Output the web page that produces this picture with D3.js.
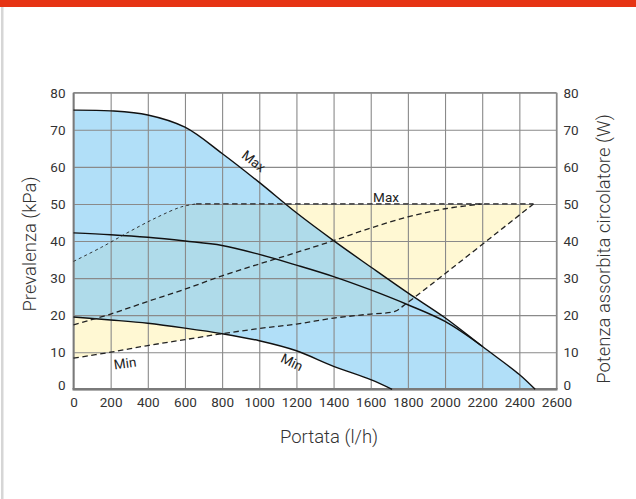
<!DOCTYPE html>
<html><head><meta charset="utf-8">
<script src="https://cdn.jsdelivr.net/npm/d3@7"></script>
<style>
body{margin:0;background:#fff}
svg{display:block;font-family:Roboto,"DejaVu Sans",sans-serif}
</style>
</head><body>
<svg id="c" width="636" height="499"></svg>
<script>
// ---- data (flow l/h, value) ----
const xTicks = [0,200,400,600,800,1000,1200,1400,1600,1800,2000,2200,2400,2600];
const yTicks = [0,10,20,30,40,50,60,70,80];
// pump head curves (kPa, left axis)
const headMax = [[0,75.3],[200,75.1],[400,74],[600,70.7],[800,63.6],[1000,55.8],[1200,47.6],[1400,40.1],[1600,33],[1800,26],[2000,19.3],[2200,11.6],[2400,4],[2485,0]];
const headMid = [[0,42.2],[200,41.7],[400,41],[600,40],[800,38.8],[1000,36.4],[1200,33.5],[1400,30.4],[1600,26.8],[1800,22.8],[2000,18.3],[2200,11.6]];
const headMin = [[0,19.5],[200,18.7],[400,17.8],[600,16.5],[800,15],[1000,13.1],[1200,10.4],[1400,6.2],[1600,2.6],[1715,0]];
// absorbed power curves (W, right axis)
const powerMaxRise = [[0,34.5],[150,38.3],[300,42.5],[450,46.4],[580,49.2],[660,50]];
const powerMaxFlat = [[660,50],[2476,50]];
const powerMid = [[0,17.4],[200,20.3],[400,23.7],[600,27],[800,30.6],[1000,33.8],[1200,36.9],[1400,40.1],[1600,43.5],[1800,46.5],[2000,48.7],[2200,50]];
const powerMin = [[0,8.4],[200,10],[400,11.8],[600,13.4],[800,15],[1000,16.4],[1200,17.6],[1400,19.2],[1600,20.3],[1730,21],[1775,22.5],[2476,50]];

const W = 636, H = 499;
const L = 73.5, R = 556.5, T = 92.7, B = 389.3;
const svg = d3.select("#c");
const x = d3.scaleLinear().domain([0,2600]).range([L,R]);
const y = d3.scaleLinear().domain([0,80]).range([B,T]);
const yW = d3.scaleLinear().domain([0,80]).range([B,T]);

// page decoration
svg.append("rect").attr("x",0).attr("y",0).attr("width",W).attr("height",7).attr("fill","#e63414");
svg.append("rect").attr("x",1).attr("y",7).attr("width",2.5).attr("height",H-7).attr("fill","#d6d6d6");

const cr = d3.curveCatmullRom.alpha(0.5);
const lineH = d3.line().x(d=>x(d[0])).y(d=>y(d[1])).curve(cr);
const lineW = d3.line().x(d=>x(d[0])).y(d=>yW(d[1])).curve(cr);
const lineLin = d3.line().x(d=>x(d[0])).y(d=>yW(d[1]));

// regions
const pumpPath = lineH(headMax) + "L" + lineH(headMin.slice().reverse()).slice(1) + "Z";
const last = powerMaxFlat[powerMaxFlat.length-1];
const powerPath = lineW(powerMaxRise) + "L" + x(last[0]) + "," + yW(last[1]) + "L" + lineW(powerMin.slice().reverse()).slice(1) + "Z";

const defs = svg.append("defs");
defs.append("clipPath").attr("id","pw").append("path").attr("d",powerPath);
svg.append("path").attr("d",powerPath).attr("fill","#fff8d3");
svg.append("path").attr("d",pumpPath).attr("fill","#b1dff8");
svg.append("path").attr("d",pumpPath).attr("fill","#afdbea").attr("clip-path","url(#pw)");

// grid + axes
const gx = svg.append("g").attr("transform",`translate(0,${B})`)
  .call(d3.axisBottom(x).tickValues(xTicks).tickSize(-(B-T)).tickPadding(10).tickFormat(d3.format("d")));
const gy = svg.append("g").attr("transform",`translate(${L},0)`)
  .call(d3.axisLeft(y).tickValues(yTicks).tickSize(-(R-L)).tickPadding(8));
const gr = svg.append("g").attr("transform",`translate(${R},0)`)
  .call(d3.axisRight(yW).tickValues(yTicks).tickSize(0).tickPadding(7));
[gx,gy,gr].forEach(g=>{
  g.select(".domain").remove();
  g.selectAll(".tick line").attr("stroke","#8a8a8a").attr("stroke-width",1.1);
  g.selectAll(".tick text").attr("fill","#333").style("font-size","13.5px").style("font-family","Roboto");
});
gx.selectAll(".tick text").attr("dy","0.55em");
[gy,gr].forEach(g=>g.selectAll(".tick").filter(d=>d===0).select("text").attr("dy","0.0em"));
// frame
svg.append("line").attr("x1",L).attr("x2",R).attr("y1",T).attr("y2",T).attr("stroke","#8a8a8a").attr("stroke-width",1.3);
svg.append("line").attr("x1",R).attr("x2",R).attr("y1",T).attr("y2",B).attr("stroke","#8a8a8a").attr("stroke-width",1.3);
svg.append("line").attr("x1",L).attr("x2",L).attr("y1",T).attr("y2",B).attr("stroke","#7a7a7a").attr("stroke-width",1.8);
svg.append("line").attr("x1",L-1).attr("x2",R+1).attr("y1",B).attr("y2",B).attr("stroke","#7a7a7a").attr("stroke-width",2.4);

// curves
const solid = (d)=>svg.append("path").attr("d",d).attr("fill","none").attr("stroke","#111").attr("stroke-width",1.4);
solid(lineH(headMax)); solid(lineH(headMid)); solid(lineH(headMin));
const dashed = (d,w,da)=>svg.append("path").attr("d",d).attr("fill","none").attr("stroke","#222").attr("stroke-width",w).attr("stroke-dasharray",da);
dashed(lineW(powerMaxRise),0.9,"3,3");
dashed(lineLin(powerMaxFlat),1.3,"5.5,3.5");
dashed(lineW(powerMid),1.3,"5.5,3.5");
dashed(lineW(powerMin),1.3,"5.5,3.5");

// curve labels
const lab = (t,cx,cy,rot)=>svg.append("text").attr("transform",`translate(${cx},${cy}) rotate(${rot})`)
  .attr("text-anchor","middle").attr("dominant-baseline","central").attr("fill","#222")
  .style("font-size","13.5px").text(t);
lab("Max",254,161,38);
lab("Max",386,197,0);
lab("Min",125,363,-8);
lab("Min",292,362,26);

// titles
const title = (t,tr)=>svg.append("text").attr("transform",tr).attr("text-anchor","middle").attr("dominant-baseline","central")
  .attr("fill","#333").style("font-size","18.5px").style("font-weight","300").text(t);
title("Portata (l/h)","translate(329,437)");
title("Prevalenza (kPa)","translate(30,244) rotate(-90)");
title("Potenza assorbita circolatore (W)","translate(604,249) rotate(-90)");
</script>
</body></html>
